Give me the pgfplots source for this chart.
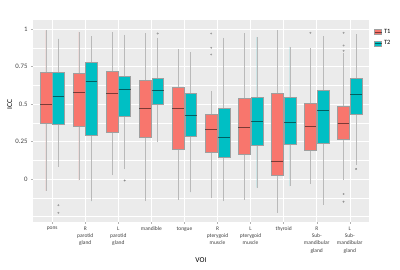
\documentclass[border=0pt]{standalone}
\usepackage{fontspec}
\setmainfont{Carlito}
\usepackage{pgfplots}
\pgfplotsset{compat=1.18}
\usepgfplotslibrary{statistics}
\definecolor{Tone}{HTML}{F8766D}
\definecolor{Ttwo}{HTML}{00BFC4}
\definecolor{panelbg}{HTML}{EBEBEB}
% #1 position, #2 colour, #3 lower whisker, #4 lower quartile, #5 median, #6 upper quartile, #7 upper whisker, #8 outliers
\newcommand{\bp}[8]{%
\addplot[boxplot prepared={draw position=#1, lower whisker=#3, lower quartile=#4, median=#5, upper quartile=#6, upper whisker=#7, box extend=0.36, whisker extend=0},
  fill=#2, draw=gray!75, line width=0.4pt, mark=*, mark size=0.7pt, mark options={fill=black!80, draw=none}, forget plot] coordinates {#8};}
\begin{document}
\begin{tikzpicture}
\useasboundingbox (-33pt,-48pt) rectangle (367pt,222pt);
\begin{axis}[
  scale only axis, width=336pt, height=202pt,
  boxplot/draw direction=y,
  xmin=0.42, xmax=10.58, ymin=-0.2867, ymax=1.06,
  axis background/.style={fill=panelbg},
  axis line style={draw=none},
  xtick={1,2,3,4,5,6,7,8,9,10},
  xticklabels={pons,{R\\parotid\\gland},{L\\parotid\\gland},mandible,tongue,{R\\pterygoid\\muscle},{L\\pterygoid\\muscle},thyroid,{R\\Sub-\\mandibular\\gland},{L\\Sub-\\mandibular\\gland}},
  ytick={0,0.25,0.5,0.75,1},
  yticklabels={0,0.25,0.5,0.75,1},
  minor ytick={-0.25,-0.125,0.125,0.375,0.625,0.875},
  grid=both,
  major grid style={white, line width=0.6pt},
  minor grid style={white, line width=0.3pt},
  tick pos=left, tick align=outside,
  major tick length=2pt, minor tick length=0pt,
  tick style={gray!60, line width=0.4pt},
  xticklabel style={font=\fontsize{5.5}{7.2}\selectfont, align=center, text=black!75, yshift=0.5pt},
  yticklabel style={font=\fontsize{6.8}{8}\selectfont, text=black!75},
  xlabel={VOI}, ylabel={ICC},
  xlabel style={font=\fontsize{7.5}{9}\selectfont, at={(axis description cs:0.5,-0.188)}, anchor=center},
  ylabel style={font=\fontsize{7.5}{9}\selectfont, at={(axis description cs:-0.069,0.58)}, anchor=center},
  boxplot/every whisker/.style={draw=gray!55, line width=0.7pt},
  boxplot/every median/.style={draw=black, draw opacity=0.5, line width=0.9pt},
  legend style={at={(axis description cs:1.015,0.965)}, anchor=north west, draw=none, fill=none,
    font=\fontsize{6.5}{8}\selectfont, row sep=1.5pt, inner sep=0pt},
  legend cell align=left,
]
\addlegendimage{legend image code/.code={\draw[fill=Tone, draw=gray!75, line width=0.4pt] (0pt,-2.5pt) rectangle (7pt,2.5pt); \draw[black, opacity=0.5, line width=0.8pt] (0pt,0pt) -- (7pt,0pt);}}
\addlegendentry{T1}
\addlegendimage{legend image code/.code={\draw[fill=Ttwo, draw=gray!75, line width=0.4pt] (0pt,-2.5pt) rectangle (7pt,2.5pt); \draw[black, opacity=0.5, line width=0.8pt] (0pt,0pt) -- (7pt,0pt);}}
\addlegendentry{T2}
% pons
\bp{0.81}{Tone}{-0.08}{0.37}{0.50}{0.71}{0.99}{}
\bp{1.19}{Ttwo}{0.08}{0.367}{0.55}{0.71}{0.935}{(0,-0.175) (0,-0.225)}
% R parotid
\bp{1.81}{Tone}{-0.01}{0.35}{0.575}{0.705}{0.98}{}
\bp{2.19}{Ttwo}{-0.15}{0.29}{0.653}{0.78}{0.953}{}
% L parotid
\bp{2.81}{Tone}{0.025}{0.31}{0.57}{0.72}{0.98}{}
\bp{3.19}{Ttwo}{0.065}{0.42}{0.60}{0.685}{0.96}{(0,-0.01)}
% mandible
\bp{3.81}{Tone}{-0.147}{0.28}{0.47}{0.66}{0.97}{}
\bp{4.19}{Ttwo}{0.245}{0.50}{0.59}{0.675}{0.94}{(0,0.97)}
% tongue
\bp{4.81}{Tone}{-0.14}{0.20}{0.47}{0.61}{0.865}{}
\bp{5.19}{Ttwo}{-0.09}{0.285}{0.425}{0.57}{0.845}{}
% R pterygoid
\bp{5.81}{Tone}{-0.13}{0.178}{0.327}{0.43}{0.587}{(0,0.97) (0,0.875) (0,0.83)}
\bp{6.19}{Ttwo}{-0.147}{0.142}{0.28}{0.47}{0.94}{}
% L pterygoid
\bp{6.81}{Tone}{-0.14}{0.167}{0.345}{0.538}{0.97}{}
\bp{7.19}{Ttwo}{-0.058}{0.222}{0.385}{0.547}{0.945}{}
% thyroid
\bp{7.81}{Tone}{-0.225}{0.025}{0.115}{0.571}{0.99}{}
\bp{8.19}{Ttwo}{-0.047}{0.233}{0.378}{0.545}{0.88}{}
% R submandibular
\bp{8.81}{Tone}{-0.033}{0.19}{0.349}{0.505}{0.87}{(0,0.975)}
\bp{9.19}{Ttwo}{-0.173}{0.238}{0.46}{0.59}{0.953}{}
% L submandibular
\bp{9.81}{Tone}{-0.007}{0.262}{0.367}{0.487}{0.84}{(0,0.975) (0,0.89) (0,0.855) (0,-0.1) (0,-0.151)}
\bp{10.19}{Ttwo}{0.093}{0.43}{0.565}{0.673}{0.965}{(0,0.067)}
\end{axis}
\end{tikzpicture}
\end{document}
